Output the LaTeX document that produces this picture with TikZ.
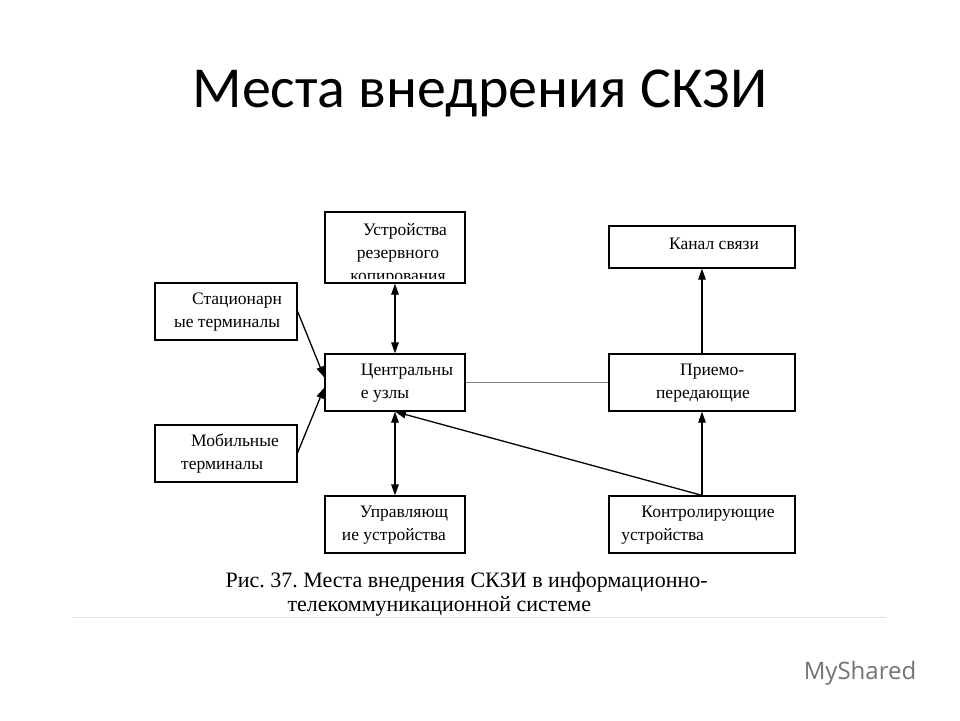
\documentclass[tikz,border=0pt]{standalone}
\usepackage{fontspec}
\setmainfont{Liberation Serif}
\newfontfamily\titlefont{Carlito}
\newfontfamily\logofont{Open Sans}
\usetikzlibrary{arrows.meta}
\begin{document}
\frenchspacing
\begin{tikzpicture}[x=1pt,y=-1pt,
  box/.style={draw,line width=1.3pt,minimum height=57pt,inner sep=0pt},
  txt/.style={font=\fontsize{17.5}{23}\selectfont,align=left},
  arr/.style={line width=1.3pt,-{Triangle[length=11pt,width=7.5pt]}},
  darr/.style={line width=1.3pt,{Triangle[length=11pt,width=7.5pt]}-{Triangle[length=11pt,width=7.5pt]}}]
\useasboundingbox (0,0) rectangle (960,720);
\node[font=\titlefont\fontsize{58}{60}\selectfont] (title) at (480,93) {Места внедрения СКЗИ};
% boxes
\node[box,minimum width=140pt,minimum height=71pt] (bak) at (395,247.5) {};
\begin{scope}
\clip (326,213) rectangle (464,278);
\node[txt,align=center] (baktxt) at (398,254) {\hspace*{14pt}Устройства\\резервного\\копирования};
\end{scope}
\node[box,minimum width=142pt] (st) at (226,311.5) {};
\node[txt] (sttxt) at (228,312) {\hspace*{18pt}Стационарн\\ые терминалы};
\node[box,minimum width=140pt] (cen) at (395,382.5) {};
\node[txt] (centxt) at (407,383) {Центральны\\\hspace*{0pt}е узлы};
\node[box,minimum width=142pt] (mob) at (226,453.5) {};
\node[txt] (mobtxt) at (230,454) {\hspace*{10pt}Мобильные\\терминалы};
\node[box,minimum width=140pt] (man) at (395,524.5) {};
\node[txt] (mantxt) at (395,525) {\hspace*{18pt}Управляющ\\ие устройства};
\node[box,minimum width=186pt,minimum height=42pt] (ch) at (702,247) {};
\node[txt] (chtxt) at (714,244) {Канал связи};
\node[box,minimum width=186pt] (tr) at (702,382.5) {};
\node[txt] (trtxt) at (703,383) {\hspace*{24pt}Приемо-\\передающие};
\node[box,minimum width=186pt] (ctl) at (702,524.5) {};
\node[txt] (ctltxt) at (698,525) {\hspace*{20pt}Контролирующие\\устройства};
% connectors
\draw[arr] (st.east) -- ([yshift=5pt]cen.west);
\draw[arr] ([yshift=1pt]mob.east) -- ([yshift=-5pt]cen.west);
\draw[darr] (bak.south) -- (cen.north);
\draw[darr] (cen.south) -- (man.north);
\draw[gray,line width=0.9pt] (cen.east) -- (tr.west);
\draw[arr] (tr.north) -- (ch.south);
\draw[arr] (ctl.north) -- (tr.south);
\draw[arr] (ctl.north) -- (cen.south);
% caption
\node[anchor=west,font=\fontsize{22}{24}\selectfont] (cap1) at (222,582) {Рис. 37. Места внедрения СКЗИ в информационно-};
\node[anchor=west,font=\fontsize{22}{24}\selectfont] (cap2) at (284,606) {телекоммуникационной системе};
\draw[black!12,line width=1pt] (72,617) -- (886,617);
\node[text=black!55,font=\logofont\fontsize{24}{26}\selectfont] (logo) at (860,673) {MyShared};
\end{tikzpicture}
\end{document}
